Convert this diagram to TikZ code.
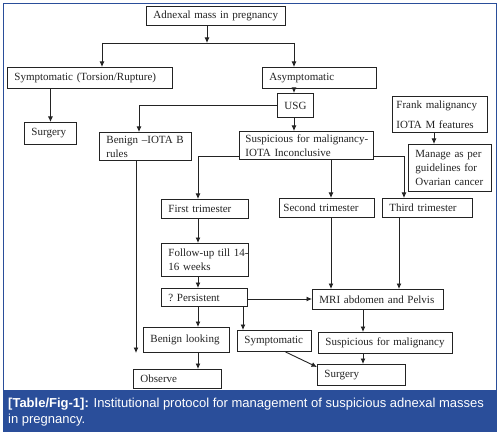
\documentclass[tikz,border=0pt]{standalone}
\usepackage{fontspec}
\setmainfont{Liberation Serif}
\setsansfont{Liberation Sans}
\usetikzlibrary{arrows.meta}
\definecolor{capblue}{RGB}{42,78,154}
\definecolor{ink}{RGB}{35,35,35}
\begin{document}
\begin{tikzpicture}[x=1pt,y=-1pt,
  box/.style={draw=ink, line width=0.9pt, anchor=north west, align=left,
    inner xsep=7pt, inner ysep=1pt, text=ink,
    font=\fontsize{11}{14}\selectfont},
  arr/.style={draw=ink, line width=0.9pt, -{Latex[length=5.5pt,width=5pt]}},
  ln/.style={draw=ink, line width=0.9pt}]
\useasboundingbox (0,0) rectangle (499,436);
\fill[white] (0,0) rectangle (499,436);
% frame and caption bar
\draw[capblue, line width=0.8pt] (3,3) rectangle (496,431);
\fill[capblue] (3,390) rectangle (496,431);
\node[anchor=base west, inner sep=0, text=white, font=\sffamily\fontsize{13}{16}\selectfont] (cap1) at (8,407)
  {\textbf{[Table/Fig-1]:} Institutional protocol for management of suspicious adnexal masses};
\node[anchor=base west, inner sep=0, text=white, font=\sffamily\fontsize{13}{16}\selectfont] (cap2) at (8,423)
  {in pregnancy.};
% boxes
\node[box, text width=125pt, minimum height=19pt] (top) at (146,6) {Adnexal mass in pregnancy};
\node[box, text width=151pt, minimum height=21pt] (sym) at (7,67) {\mbox{Symptomatic (Torsion/Rupture)}};
\node[box, text width=100pt, minimum height=21pt] (asym) at (262,67) {Asymptomatic};
\node[box, text width=38pt, minimum height=22pt] (surg1) at (24,122) {Surgery};
\node[box, inner xsep=2pt, text width=32pt, minimum height=24pt, align=center] (usg) at (277,93) {USG};
\node[box, text width=78pt, minimum height=28pt] (benign) at (99,132) {\mbox{Benign --IOTA B}\\rules};
\node[box, inner xsep=6pt, text width=122pt, minimum height=28pt] (susp) at (239,131) {\mbox{Suspicious for malignancy-}\\IOTA Inconclusive};
\node[box, inner xsep=4pt, text width=87pt, minimum height=36pt] (frank) at (392,96) {Frank malignancy\\[6pt]IOTA M features};
\node[box, text width=69pt, minimum height=47pt] (manage) at (408,144) {Manage as per\\guidelines for\\\mbox{Ovarian cancer}};
\node[box, text width=73pt, minimum height=19pt] (first) at (161,199) {First trimester};
\node[box, inner xsep=4pt, text width=87pt, minimum height=19pt] (second) at (279,198) {\mbox{Second trimester}};
\node[box, text width=76pt, minimum height=19pt] (third) at (382,198) {Third trimester};
\node[box, text width=73pt, minimum height=33pt] (follow) at (161,243) {\mbox{Follow-up till 14-}\\16 weeks};
\node[box, text width=72pt, minimum height=18pt] (persist) at (161,288) {?\ Persistent};
\node[box, text width=117pt, minimum height=20pt] (mri) at (312,289) {\mbox{MRI abdomen and Pelvis}};
\node[box, text width=72pt, minimum height=25pt] (blook) at (143,327) {\mbox{Benign looking}};
\node[box, text width=60pt, minimum height=21pt] (symp2) at (237,330) {\mbox{Symptomatic}};
\node[box, text width=120pt, minimum height=21pt] (smal) at (318,332) {\mbox{Suspicious for malignancy}};
\node[box, text width=74pt, minimum height=19pt] (observe) at (133,369) {Observe};
\node[box, text width=74pt, minimum height=21pt] (surg2) at (317,364) {Surgery};
% helper coordinates
\coordinate (busL) at (102,43);
\coordinate (busM) at (207,43);
\coordinate (busR) at (294,43);
\coordinate (hS) at (0,156);
\coordinate (hP) at (0,299);
\coordinate (cA) at (198,0);
\coordinate (cB) at (331,0);
\coordinate (cC) at (404,0);
\coordinate (cD) at (363,0);
\coordinate (cE) at (243,0);
\coordinate (cF) at (399,0);
\coordinate (cG) at (136,0);
\coordinate (cH) at (139,0);
\coordinate (cI) at (434,0);
\coordinate (bend) at (136,353);
% connectors
\draw[arr] (top.south -| busM) -- (busM);
\draw[ln] (busL) -- (busR);
\draw[arr] (busL) -- (busL |- sym.north);
\draw[arr] (busR) -- (busR |- asym.north);
\draw[arr] (sym.south -| surg1.north) -- (surg1.north);
\draw[arr] (asym.south -| busR) -- (busR |- usg.north);
\draw[arr] (usg.west) -| (cH |- benign.north);
\draw[arr] (usg.south -| busR) -- (busR |- susp.north);
\draw[arr] (cI |- frank.south) -- (cI |- manage.north);
\draw[arr] (susp.west |- hS) -| (cA |- first.north);
\draw[arr] (cB |- susp.south) -- (cB |- second.north);
\draw[arr] (susp.east |- hS) -| (cC |- third.north);
\draw[arr] (cA |- first.south) -- (cA |- follow.north);
\draw[arr] (cA |- follow.south) -- (cA |- persist.north);
\draw[arr] (cA |- persist.south) -- (cA |- blook.north);
\draw[arr] (cA |- blook.south) -- (cA |- observe.north);
\draw[arr] (cE |- persist.south) -- (cE |- symp2.north);
\draw[arr] (persist.east |- hP) -- (mri.west |- hP);
\draw[arr] (cB |- second.south) -- (cB |- mri.north);
\draw[arr] (cF |- third.south) -- (cF |- mri.north);
\draw[arr] (cD |- mri.south) -- (cD |- smal.north);
\draw[arr] (cD |- smal.south) -- (cD |- surg2.north);
\draw[arr] ([xshift=11pt]symp2.south) -- ([yshift=-3pt]surg2.north west);
\draw[arr] (cG |- benign.south) -- (bend);
\end{tikzpicture}
\end{document}
